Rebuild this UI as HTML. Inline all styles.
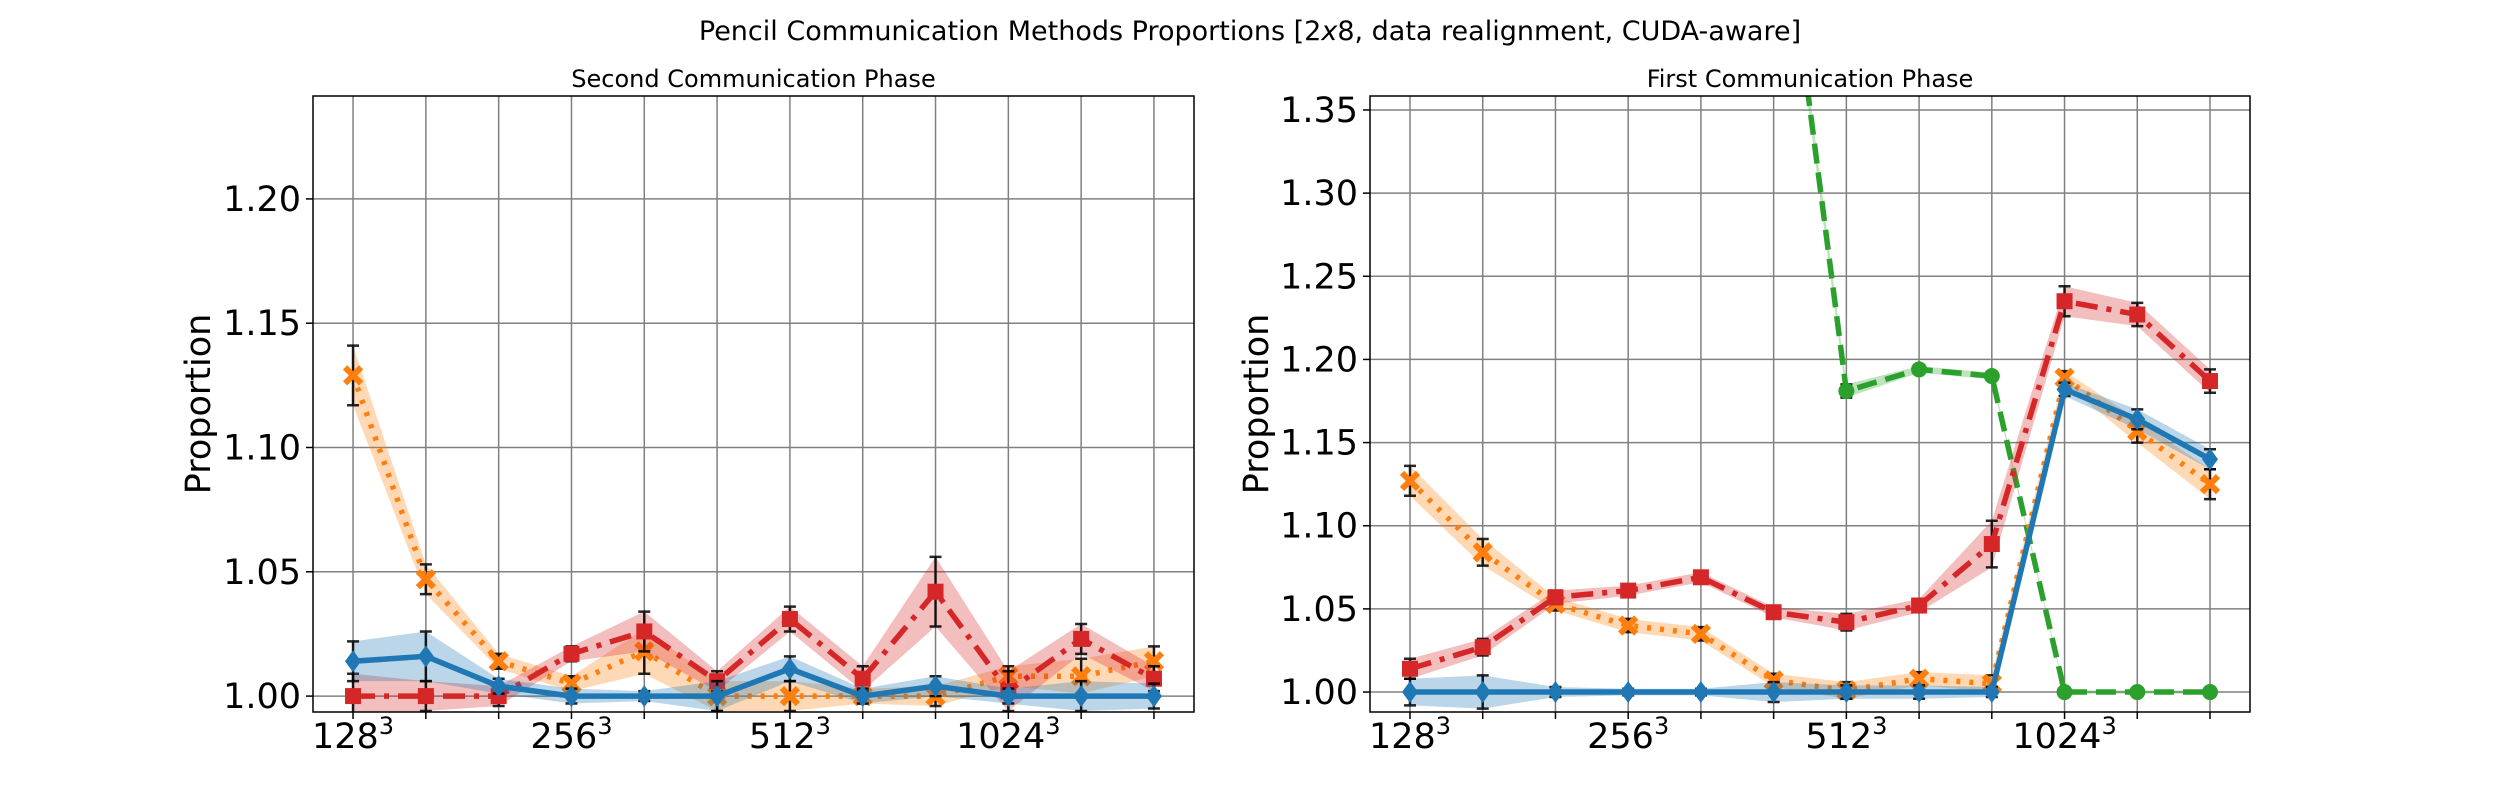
<!DOCTYPE html>
<html><head><meta charset="utf-8">
<style>
html,body{margin:0;padding:0;background:#fff;}
svg{display:block;font-family:"DejaVu Sans","Liberation Sans",sans-serif;}
</style></head>
<body>
<svg id="chart" width="2500" height="800" xmlns="http://www.w3.org/2000/svg">
<text x="1250" y="40" font-size="27" text-anchor="middle">Pencil Communication Methods Proportions [2<tspan font-style="italic">x</tspan>8, data realignment, CUDA-aware]</text>
</svg>
<script>
const categories = ["128","","","256","","","512","","","1024","",""];
// Second Communication Phase (left)
const leftBlue   = [1.014,1.016,1.004,1.000,1.000,1.000,1.011,1.000,1.004,1.000,1.000,1.000];
const leftBlueErr= [0.008,0.010,0.003,0.003,0.002,0.006,0.005,0.003,0.004,0.003,0.006,0.005];
const leftOrange = [1.129,1.047,1.014,1.005,1.018,1.000,1.000,1.000,1.000,1.008,1.008,1.014];
const leftOrangeErr=[0.012,0.006,0.003,0.003,0.009,0.006,0.006,0.003,0.004,0.004,0.007,0.006];
const leftRed    = [1.000,1.000,1.000,1.017,1.026,1.006,1.031,1.007,1.042,1.002,1.023,1.007];
const leftRedErr = [0.009,0.006,0.004,0.003,0.008,0.004,0.005,0.005,0.014,0.008,0.006,0.005];
// First Communication Phase (right)
const rightBlue   = [1.000,1.000,1.000,1.000,1.000,1.000,1.000,1.000,1.000,1.182,1.164,1.140];
const rightBlueErr= [0.008,0.010,0.003,0.002,0.002,0.006,0.004,0.004,0.003,0.004,0.006,0.006];
const rightOrange = [1.127,1.084,1.053,1.040,1.035,1.007,1.001,1.008,1.005,1.189,1.157,1.125];
const rightOrangeErr=[0.009,0.008,0.004,0.004,0.004,0.004,0.005,0.004,0.005,0.004,0.007,0.009];
const rightRed    = [1.014,1.027,1.057,1.061,1.069,1.048,1.042,1.052,1.089,1.235,1.227,1.187];
const rightRedErr = [0.006,0.005,0.004,0.003,0.003,0.003,0.005,0.004,0.014,0.009,0.007,0.007];
const rightGreen  = [null,null,null,null,null,1.520,1.181,1.194,1.190,1.000,1.000,1.000];
const rightGreenErr=[0,0,0,0,0,0.01,0.004,0.002,0.002,0.001,0.001,0.001];
const leftYTicks  = [1.00,1.05,1.10,1.15,1.20];
const rightYTicks = [1.00,1.05,1.10,1.15,1.20,1.25,1.30,1.35];

const NS="http://www.w3.org/2000/svg";
const svg=document.getElementById('chart');
function mk(tag,attrs,parent){const e=document.createElementNS(NS,tag);for(const k in attrs)e.setAttribute(k,attrs[k]);(parent||svg).appendChild(e);return e;}

const COL={blue:'#1f77b4',orange:'#ff7f0e',red:'#d62728',green:'#2ca02c'};

function panel(cfg){
  const g=mk('g',{});
  
  
  const L=cfg.x0,R=cfg.x1,T=96,B=712;
  const xs=i=>L+(i+0.55)/(12.1)*(R-L);
  const ys=v=>B-(v-cfg.ymin)/(cfg.ymax-cfg.ymin)*(B-T);
  const clip=mk('clipPath',{id:'clip'+cfg.id},g);
  mk('rect',{x:L,y:T,width:R-L,height:B-T},clip);
  // grid
  for(let i=0;i<12;i++){
    const l=mk('line',{x1:xs(i),x2:xs(i),y1:T,y2:B,stroke:'#808080','stroke-width':1.5},g);
    
    
    mk('line',{x1:xs(i),x2:xs(i),y1:B,y2:B+7,stroke:'#000','stroke-width':1.5},g);
    if(categories[i]){
      const t=mk('text',{x:xs(i),y:748,'font-size':35,'text-anchor':'middle'},g);
      
      
      t.textContent=categories[i];
      const s=mk('tspan',{'font-size':24,dy:-14},t);s.textContent='3';
    }
  }
  cfg.ticks.forEach(v=>{
    const l=mk('line',{x1:L,x2:R,y1:ys(v),y2:ys(v),stroke:'#808080','stroke-width':1.5},g);
    
    
    mk('line',{x1:L-7,x2:L,y1:ys(v),y2:ys(v),stroke:'#000','stroke-width':1.5},g);
    const t=mk('text',{x:L-12,y:ys(v)+12,'font-size':35,'text-anchor':'end'},g);
    
    
    t.textContent=v.toFixed(2);
  });
  const yl=mk('text',{x:0,y:0,'font-size':35,'text-anchor':'middle',transform:`translate(${cfg.ylx},404) rotate(-90)`},g);
  
  
  yl.textContent='Proportion';
  const st=mk('text',{x:(L+R)/2,y:87,'font-size':24,'text-anchor':'middle'},g);
  
  
  st.textContent=cfg.title;
  const dg=mk('g',{'clip-path':`url(#clip${cfg.id})`},g);
  cfg.series.forEach(s=>{
    const sg=mk('g',{},dg);
    
    
    const idx=[];s.vals.forEach((v,i)=>{if(v!==null)idx.push(i);});
    // band
    let d=idx.map((i,k)=>(k?'L':'M')+xs(i)+','+ys(s.vals[i]+s.err[i])).join('');
    d+=idx.slice().reverse().map(i=>'L'+xs(i)+','+ys(s.vals[i]-s.err[i])).join('')+'Z';
    const band=mk('path',{d:d,fill:s.col,'fill-opacity':0.3,stroke:'none'},sg);
    
    
    // error bars
    idx.forEach(i=>{
      const x=xs(i),a=ys(s.vals[i]+s.err[i]),b=ys(s.vals[i]-s.err[i]);
      mk('path',{d:`M${x},${a}L${x},${b}M${x-6},${a}L${x+6},${a}M${x-6},${b}L${x+6},${b}`,stroke:'#000','stroke-width':2.5,fill:'none','stroke-opacity':0.85},sg);
    });
    const ln=mk('path',{d:idx.map((i,k)=>(k?'L':'M')+xs(i)+','+ys(s.vals[i])).join(''),fill:'none',stroke:s.col,'stroke-width':5.5,'stroke-dasharray':s.dash},sg);
    
    
    idx.forEach(i=>{
      const x=xs(i),y=ys(s.vals[i]);let m;
      if(s.mk==='D')m=mk('path',{d:`M${x},${y-11}L${x+8},${y}L${x},${y+11}L${x-8},${y}Z`,fill:s.col},sg);
      else if(s.mk==='s')m=mk('rect',{x:x-8,y:y-8,width:16,height:16,fill:s.col},sg);
      else if(s.mk==='o')m=mk('circle',{cx:x,cy:y,r:8,fill:s.col},sg);
      else m=mk('path',{d:`M${x-8},${y-8}L${x+8},${y+8}M${x+8},${y-8}L${x-8},${y+8}`,stroke:s.col,'stroke-width':6},sg);
      
      
    });
  });
  const fr=mk('rect',{x:L,y:T,width:R-L,height:B-T,fill:'none',stroke:'#000','stroke-width':1.5},g);
  
  
}
panel({id:'L',name:'second-phase-panel',x0:313,x1:1194,ymin:0.9936,ymax:1.2414,ticks:leftYTicks,ylx:210,title:'Second Communication Phase',
  series:[
    {key:'orange',vals:leftOrange,err:leftOrangeErr,col:COL.orange,dash:'4 9',mk:'X'},
    {key:'red',vals:leftRed,err:leftRedErr,col:COL.red,dash:'22 9 5 9',mk:'s'},
    {key:'blue',vals:leftBlue,err:leftBlueErr,col:COL.blue,dash:'none',mk:'D'}
  ]});
panel({id:'R',name:'first-phase-panel',x0:1370,x1:2250,ymin:0.988,ymax:1.3584,ticks:rightYTicks,ylx:1268,title:'First Communication Phase',
  series:[
    {key:'green',vals:rightGreen,err:rightGreenErr,col:COL.green,dash:'20 9',mk:'o'},
    {key:'orange',vals:rightOrange,err:rightOrangeErr,col:COL.orange,dash:'4 9',mk:'X'},
    {key:'red',vals:rightRed,err:rightRedErr,col:COL.red,dash:'22 9 5 9',mk:'s'},
    {key:'blue',vals:rightBlue,err:rightBlueErr,col:COL.blue,dash:'none',mk:'D'}
  ]});
</script>
</body></html>
